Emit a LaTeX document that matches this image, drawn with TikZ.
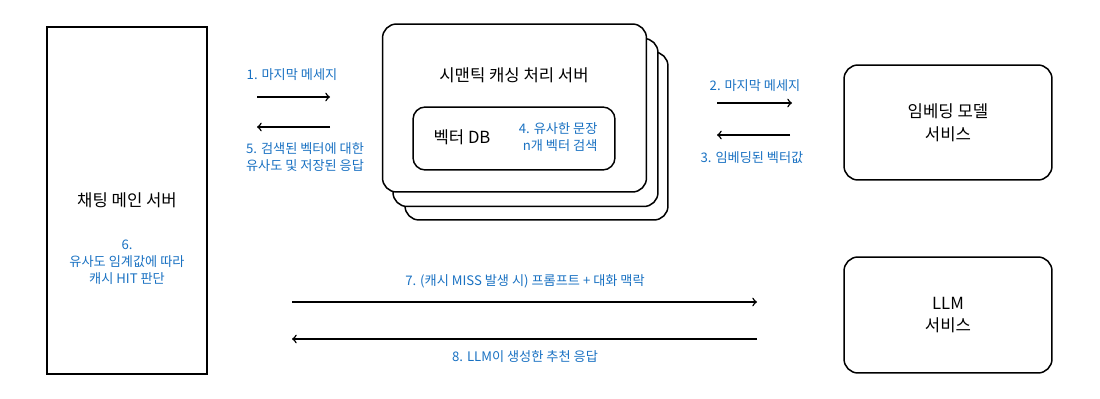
\documentclass[tikz,border=0pt]{standalone}
\usepackage{fontspec}
\setmainfont{Noto Sans CJK KR}
\usepackage{tikz}
\usetikzlibrary{arrows,positioning,calc,shapes}
\usepackage{xcolor}
\definecolor{noteblue}{RGB}{25,113,194}

\begin{document}
\begin{tikzpicture}[x=0.02cm,y=-0.02cm, line width=0.85pt, >=to,
  box/.style={draw, rounded corners=8pt, fill=white, align=center, font=\fontsize{9.5}{13}\selectfont},
  title/.style={font=\fontsize{9.5}{13}\selectfont, align=center},
  note/.style={text=noteblue, font=\fontsize{7.5}{9.6}\selectfont, align=center}]
  \useasboundingbox (0,0) rectangle (1100,399);

  % chat main server
  \node[draw, minimum width=3.2cm, minimum height=6.94cm] (chat) at (127,200.5) {};
  \node[title] (chatname) at (127,200) {채팅 메인 서버};
  \node[note] (judge) at (127,262) {6.\\유사도 임계값에 따라\\캐시 HIT 판단};

  % semantic caching server, three stacked cards
  \node[box, minimum width=5.26cm, minimum height=3.36cm] (cache3) at (536.5,136) {};
  \node[box, minimum width=5.3cm, minimum height=3.36cm] (cache2) at (525.5,122.5) {};
  \node[box, minimum width=5.28cm, minimum height=3.36cm] (cache1) at (514.5,108) {};
  \node[title] (cachename) at (514,75) {시맨틱 캐싱 처리 서버};
  \node[box, rounded corners=7pt, minimum width=4.04cm, minimum height=1.26cm] (vecdb) at (514,138.5) {};
  \node[title] (dbname) at (462,137) {벡터 DB};
  \node[note, align=right, anchor=east] (search) at (604,137) {4. 유사한 문장\\n개 벡터 검색};

  % external services
  \node[box, minimum width=4.16cm, minimum height=2.3cm] (embed) at (948,122.5) {임베딩 모델\\서비스};
  \node[box, minimum width=4.16cm, minimum height=2.32cm] (llm) at (948,315) {LLM\\서비스};

  % arrow ends
  \coordinate (a1) at (257,97);  \coordinate (b1) at (330,97);
  \coordinate (a5) at (330,127); \coordinate (b5) at (257,127);
  \coordinate (a2) at (717,103); \coordinate (b2) at (792,103);
  \coordinate (a3) at (790,135); \coordinate (b3) at (717,135);
  \coordinate (a7) at (292,302); \coordinate (b7) at (757,302);
  \coordinate (a8) at (757,339); \coordinate (b8) at (292,339);

  \draw[->] (a1) -- (b1);
  \draw[->] (a5) -- (b5);
  \draw[->] (a2) -- (b2);
  \draw[->] (a3) -- (b3);
  \draw[->] (a7) -- (b7);
  \draw[->] (a8) -- (b8);

  \node[note] (m1) at (292,75) {1. 마지막 메세지};
  \node[note] (m5) at (305,157) {5. 검색된 벡터에 대한\\유사도 및 저장된 응답};
  \node[note] (m2) at (755,86) {2. 마지막 메세지};
  \node[note] (m3) at (752,158) {3. 임베딩된 벡터값};
  \node[note] (m7) at (525,281) {7. (캐시 MISS 발생 시) 프롬프트 + 대화 맥락};
  \node[note] (m8) at (525,357) {8. LLM이 생성한 추천 응답};
\end{tikzpicture}
\end{document}
